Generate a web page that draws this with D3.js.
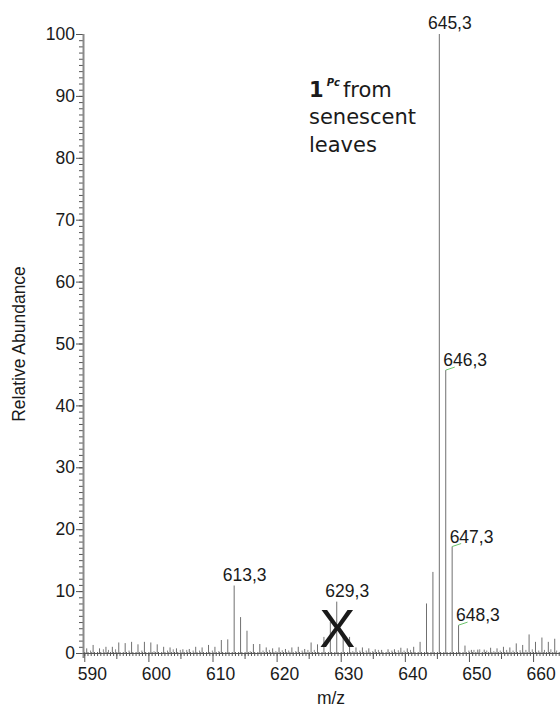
<!DOCTYPE html>
<html lang="en">
<head>
    <meta charset="UTF-8">
    <title>Mass spectrum</title>
    <script src="https://d3js.org/d3.v7.min.js"></script>
    <style>
        body { margin: 0; background: #fff; }
        text { font-family: "Liberation Sans", Arial, sans-serif; fill: #1a1a1a; }
    </style>
</head>
<body>
    <svg id="chart"></svg>
    <script>
        // main peaks (m/z, relative abundance)
        const peakMz = [590.3, 591.3, 592.3, 593.3, 594.3, 595.3, 596.3, 597.3, 598.3, 599.3,
            600.3, 601.3, 602.3, 603.3, 604.3, 605.3, 606.3, 607.3, 608.3, 609.3,
            610.3, 611.3, 612.3, 613.3, 614.3, 615.3, 616.3, 617.3, 618.3, 619.3,
            620.3, 621.3, 622.3, 623.3, 624.3, 625.3, 626.3, 627.3, 628.3, 629.3,
            630.3, 631.3, 632.3, 633.3, 634.3, 635.3, 636.3, 637.3, 638.3, 639.3,
            640.3, 641.3, 642.3, 643.3, 644.3, 645.3, 646.3, 647.3, 648.3, 649.3,
            650.3, 651.3, 652.3, 653.3, 654.3, 655.3, 656.3, 657.3, 658.3, 659.3,
            660.3, 661.3, 662.3, 663.3];
        const peakAbund = [0.75, 1.3, 0.75, 1.0, 1.0, 1.7, 1.6, 1.8, 1.4, 1.8,
            1.7, 1.4, 1.0, 0.9, 0.75, 0.6, 0.65, 1.0, 0.9, 1.3,
            1.0, 2.1, 2.2, 10.9, 5.8, 3.6, 1.45, 1.45, 0.9, 0.75,
            0.9, 0.65, 0.9, 1.0, 0.65, 1.7, 1.4, 2.6, 5.0, 8.3,
            2.7, 2.6, 0.9, 0.9, 0.75, 0.6, 0.5, 0.6, 0.6, 0.85,
            0.75, 1.0, 1.8, 8.0, 13.1, 100, 45.7, 17.2, 4.5, 1.2,
            0.5, 0.55, 0.55, 0.85, 0.75, 1.0, 0.9, 1.55, 1.3, 3.0,
            1.8, 2.5, 1.8, 2.3];

        // small in-between peaks
        const minorMz = [590.9, 592.9, 593.7, 594.8, 596.9, 598.9, 600.8, 602.9, 603.8, 604.9,
            605.9, 606.9, 607.9, 609.9, 610.9, 615.8, 617.8, 618.8, 619.8, 620.8,
            621.8, 622.9, 623.9, 624.8, 625.8, 631.8, 632.9, 633.9, 634.9, 635.8,
            637.9, 638.9, 639.8, 640.8, 649.9, 650.7, 651.6, 652.7, 653.8, 654.8,
            655.8, 656.8, 657.9, 658.8, 659.8, 660.8, 661.7, 662.7, 663.6];
        const minorAbund = [0.4, 0.6, 0.5, 0.6, 0.4, 0.4, 0.3, 0.4, 0.6, 0.5,
            0.5, 0.4, 0.4, 0.4, 0.3, 0.3, 0.4, 0.5, 0.3, 0.45,
            0.4, 0.3, 0.4, 0.5, 0.5, 0.3, 0.4, 0.4, 0.3, 0.5,
            0.4, 0.45, 0.4, 0.5, 0.4, 0.5, 0.6, 0.4, 0.3, 0.4,
            0.5, 0.4, 0.45, 0.5, 0.6, 0.4, 0.5, 0.6, 0.4];

        // labelled peaks
        const labelMz = [613.3, 629.3, 645.3, 646.3, 647.3, 648.3];
        const labelText = ["613,3", "629,3", "645,3", "646,3", "647,3", "648,3"];
        const labelLeader = [false, false, false, true, true, true];

        const xTicks = [590, 600, 610, 620, 630, 640, 650, 660];
        const yTicks = [0, 10, 20, 30, 40, 50, 60, 70, 80, 90, 100];

        const width = 560, height = 709;
        const svg = d3.select("#chart").attr("width", width).attr("height", height);

        const x = d3.scaleLinear().domain([589.8, 664.2]).range([83, 560]);
        const y = d3.scaleLinear().domain([0, 100]).range([653, 34]);

        // y axis: minor ticks every 1, labelled every 10
        svg.append("g").attr("transform", "translate(83,0)")
            .call(d3.axisLeft(y).tickValues(d3.range(0, 101, 1)).tickSize(4).tickFormat(""))
            .call(g => g.select(".domain").remove())
            .call(g => g.selectAll("line").attr("stroke", "#555"));
        svg.append("g").attr("transform", "translate(83,0)")
            .call(d3.axisLeft(y).tickValues(yTicks).tickSize(7).tickPadding(1))
            .call(g => g.select(".domain").remove())
            .call(g => g.selectAll("line").attr("stroke", "#555"))
            .call(g => g.selectAll("text").attr("font-size", 17.5)
                .attr("font-family", "Liberation Sans, Arial, sans-serif").attr("fill", "#1a1a1a"));
        svg.append("line").attr("x1", 83.5).attr("x2", 83.5).attr("y1", y(100)).attr("y2", 658)
            .attr("stroke", "#8a8a8a").attr("stroke-width", 2);

        // x axis
        svg.append("g").attr("transform", "translate(0,653)")
            .call(d3.axisBottom(x).tickValues(d3.range(590, 664.1, 0.5)).tickSize(3).tickFormat(""))
            .call(g => g.select(".domain").remove())
            .call(g => g.selectAll("line").attr("stroke", "#555").attr("y1", -1));
        svg.append("g").attr("transform", "translate(0,653)")
            .call(d3.axisBottom(x).tickValues(d3.range(595, 664, 10)).tickSize(6).tickFormat(""))
            .call(g => g.select(".domain").remove())
            .call(g => g.selectAll("line").attr("stroke", "#555"));
        svg.append("g").attr("transform", "translate(0,653)")
            .call(d3.axisBottom(x).tickValues(xTicks).tickSize(9).tickPadding(6))
            .call(g => g.select(".domain").remove())
            .call(g => g.selectAll("line").attr("stroke", "#555"))
            .call(g => g.selectAll("text").attr("font-size", 17.5).attr("dx", 7.5)
                .attr("font-family", "Liberation Sans, Arial, sans-serif").attr("fill", "#1a1a1a"));
        svg.append("line").attr("x1", 83).attr("x2", width).attr("y1", 653.5).attr("y2", 653.5)
            .attr("stroke", "#555").attr("stroke-width", 1);

        // peaks
        svg.append("g").selectAll("line")
            .data(minorMz.map((m, i) => ({ m, v: minorAbund[i] })))
            .enter().append("line")
            .attr("x1", d => x(d.m) + 0.5).attr("x2", d => x(d.m) + 0.5)
            .attr("y1", y(0)).attr("y2", d => y(d.v))
            .attr("stroke", "#8c8c8c").attr("stroke-width", 1);
        svg.append("g").selectAll("line")
            .data(peakMz.map((m, i) => ({ m, v: peakAbund[i] })))
            .enter().append("line")
            .attr("x1", d => x(d.m) + 0.5).attr("x2", d => x(d.m) + 0.5)
            .attr("y1", y(0)).attr("y2", d => y(d.v))
            .attr("stroke", "#707070").attr("stroke-width", 1);

        // peak labels
        const abundOf = m => peakAbund[peakMz.indexOf(m)];
        labelMz.forEach((m, i) => {
            const px = x(m), py = y(abundOf(m));
            if (labelLeader[i]) {
                svg.append("line").attr("x1", px + 0.5).attr("y1", py)
                    .attr("x2", px + 9.5).attr("y2", py - 3)
                    .attr("stroke", "#6cc46c").attr("stroke-width", 1);
                svg.append("text").attr("x", px - 2).attr("y", py - 4)
                    .attr("font-size", 17.5).text(labelText[i]);
            } else {
                svg.append("text").attr("x", px + 11).attr("y", py - 5)
                    .attr("text-anchor", "middle").attr("font-size", 17.5).text(labelText[i]);
            }
        });

        // crossed-out peak
        svg.append("text").attr("x", x(629.3) + 1).attr("y", 647)
            .attr("text-anchor", "middle").attr("font-size", 54).attr("fill", "#111").text("X");

        // annotation
        const note = svg.append("g");
        const line1 = note.append("text").attr("x", 309).attr("y", 96.5)
            .attr("font-size", 21).style("font-family", "DejaVu Sans, sans-serif");
        line1.append("tspan").attr("font-weight", "bold").text("1");
        line1.append("tspan").attr("font-size", 10).attr("font-style", "italic")
            .attr("font-weight", "bold").attr("dx", 3).attr("dy", -11).text("Pc");
        line1.append("tspan").attr("dx", 3).attr("dy", 11).text("from");
        note.append("text").attr("x", 309).attr("y", 123.5).attr("font-size", 21)
            .style("font-family", "DejaVu Sans, sans-serif").text("senescent");
        note.append("text").attr("x", 309).attr("y", 151.5).attr("font-size", 21)
            .style("font-family", "DejaVu Sans, sans-serif").text("leaves");

        // axis titles
        svg.append("text").attr("transform", "translate(25,344) rotate(-90)")
            .attr("text-anchor", "middle").attr("font-size", 17.5).text("Relative Abundance");
        svg.append("text").attr("x", 331).attr("y", 704)
            .attr("text-anchor", "middle").attr("font-size", 17.5).text("m/z");
    </script>
</body>
</html>
